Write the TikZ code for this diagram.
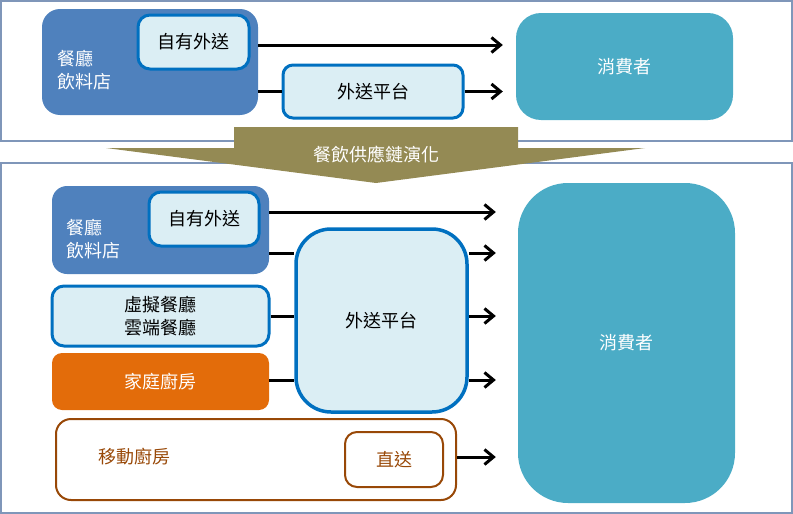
\documentclass[tikz,border=0pt]{standalone}
\usepackage{fontspec}
\newfontfamily\cjk{Noto Sans CJK TC}
\usetikzlibrary{arrows.meta}

\definecolor{framegray}{RGB}{127,150,185}
\definecolor{restblue}{RGB}{79,129,189}
\definecolor{paleblue}{RGB}{219,238,244}
\definecolor{edgeblue}{RGB}{0,112,192}
\definecolor{custteal}{RGB}{75,172,198}
\definecolor{olive}{RGB}{148,138,84}
\definecolor{homeorange}{RGB}{227,108,10}
\definecolor{mobbrown}{RGB}{152,72,7}

\tikzset{
  box/.style={rectangle,inner sep=0pt,font=\cjk\fontsize{18}{23}\selectfont},
  darkbox/.style={box,fill=restblue,text=white},
  palebox/.style={box,fill=paleblue,draw=edgeblue,line width=3pt},
  custbox/.style={box,fill=custteal,text=white},
  link/.style={line width=3pt},
  linkarrow/.style={link,-{Straight Barb[length=9pt,width=15pt]}}
}

\begin{document}
\begin{tikzpicture}[x=1pt,y=-1pt]
\useasboundingbox (0,0) rectangle (793,514);
% frames
\draw [framegray,line width=1.5pt] (1,1) rectangle (792,141);
\draw [framegray,line width=1.5pt] (1,163) rectangle (792,513);

% before
\node [darkbox,rounded corners=18pt,minimum width=216pt,minimum height=106pt]
    (rest0) at (150,62) {};
\node [darkbox,anchor=west,align=left,fill=none] (rest0txt) at (57,70) {餐廳\\飲料店};
\node [palebox,rounded corners=12pt,minimum width=111pt,minimum height=54pt]
    (own0) at (193.5,42) {自有外送};
\node [palebox,rounded corners=10pt,minimum width=180pt,minimum height=53pt]
    (plat0) at (373,91.5) {外送平台};
\node [custbox,rounded corners=25pt,minimum width=217pt,minimum height=107pt]
    (con0) at (624.5,66.5) {消費者};
\coordinate (y0) at (0,45);
\draw [linkarrow,shorten >=13pt] (rest0.east |- y0) -- (con0.west |- y0);
\draw [link] (rest0.east |- plat0.west) -- (plat0.west);
\draw [linkarrow,shorten >=13pt] (plat0.east) -- (con0.west |- plat0.east);

% evolution arrow
\path [fill=olive] (234,127) -- (518,127) -- (518,148) -- (645,148)
    -- (376,183) -- (106,148) -- (234,148) -- cycle;
\node [box,text=white] (evol) at (376,155) {餐飲供應鏈演化};

% after
\node [darkbox,rounded corners=15pt,minimum width=217pt,minimum height=88pt]
    (rest1) at (160.5,230) {};
\node [darkbox,anchor=west,align=left,fill=none] (rest1txt) at (66,239) {餐廳\\飲料店};
\node [palebox,rounded corners=12pt,minimum width=110pt,minimum height=54pt]
    (own1) at (204,219) {自有外送};
\node [palebox,rounded corners=12pt,minimum width=217pt,minimum height=60pt,
    align=center] (virt) at (160.5,316) {虛擬餐廳\\雲端餐廳};
\node [box,fill=homeorange,text=white,rounded corners=10pt,minimum width=217pt,
    minimum height=57pt] (home) at (160.5,381.5) {家庭廚房};
\node [palebox,line width=3.5pt,rounded corners=35pt,minimum width=171pt,
    minimum height=183pt] (plat1) at (381.5,320.5) {外送平台};
\node [box,draw=mobbrown,line width=2pt,rounded corners=15pt,minimum width=400pt,
    minimum height=81pt] (mob) at (256,459.5) {};
\node [box,text=mobbrown,anchor=west] (mobtxt) at (98,457) {移動廚房};
\node [box,draw=mobbrown,text=mobbrown,line width=2pt,rounded corners=12pt,
    minimum width=98pt,minimum height=55pt] (direct) at (394,459.5) {直送};
\node [custbox,rounded corners=50pt,minimum width=217pt,minimum height=320pt]
    (con1) at (626.5,343) {消費者};

\coordinate (y1) at (0,212);
\coordinate (y2) at (0,253);
\coordinate (y3) at (0,380);
\coordinate (y4) at (0,457);
\draw [linkarrow,shorten >=22pt] (rest1.east |- y1) -- (con1.west |- y1);
\draw [link] (rest1.east |- y2) -- (plat1.west |- y2);
\draw [linkarrow,shorten >=22pt] (plat1.east |- y2) -- (con1.west |- y2);
\draw [link] (virt.east) -- (plat1.west |- virt.east);
\draw [linkarrow,shorten >=22pt] (plat1.east |- virt.east) -- (con1.west |- virt.east);
\draw [link] (home.east |- y3) -- (plat1.west |- y3);
\draw [linkarrow,shorten >=22pt] (plat1.east |- y3) -- (con1.west |- y3);
\draw [linkarrow,shorten >=22pt] (mob.east |- y4) -- (con1.west |- y4);
\end{tikzpicture}
\end{document}
